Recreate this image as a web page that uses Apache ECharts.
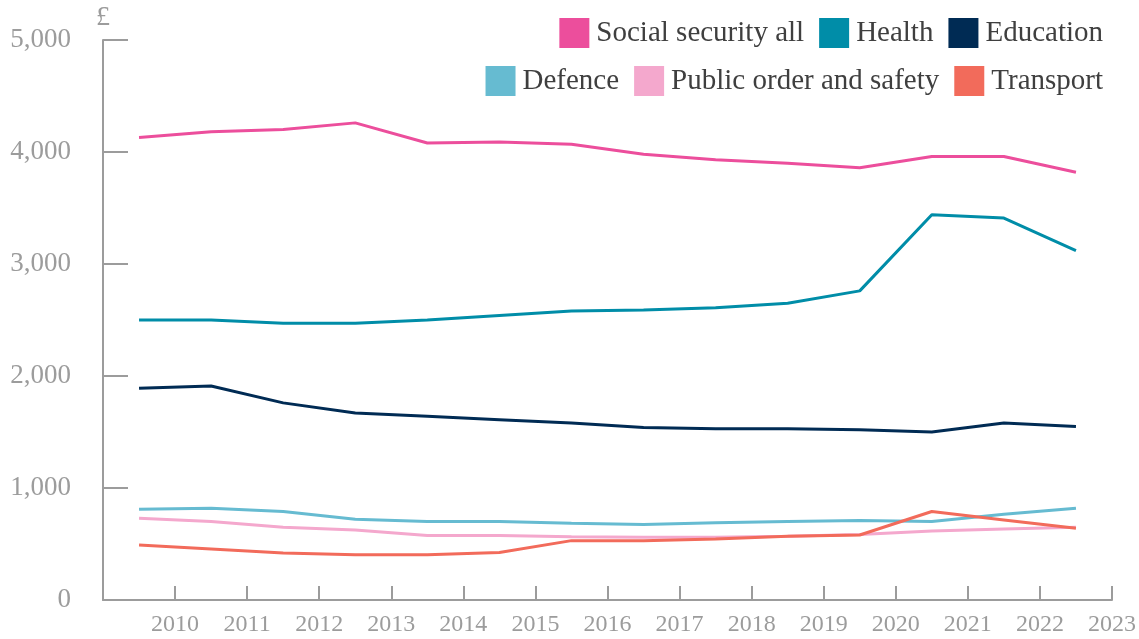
<!DOCTYPE html>
<html>
<head>
<meta charset="utf-8">
<script src="https://cdn.jsdelivr.net/npm/echarts@6/dist/echarts.min.js"></script>
<style>
html, body { margin: 0; padding: 0; background: #fff; }
#main { width: 1139px; height: 639px; }
</style>
</head>
<body>
<div id="main"></div>
<script>
var myChart = echarts.init(document.getElementById('main'));

// financial year ending in ...
var years = [2010, 2011, 2012, 2013, 2014, 2015, 2016, 2017, 2018, 2019, 2020, 2021, 2022, 2023];
var socialSecurity = [4130, 4180, 4200, 4260, 4080, 4090, 4070, 3980, 3930, 3900, 3860, 3960, 3960, 3820];
var health = [2500, 2500, 2470, 2470, 2500, 2540, 2580, 2590, 2610, 2650, 2760, 3440, 3410, 3120];
var education = [1890, 1910, 1760, 1670, 1640, 1610, 1580, 1540, 1530, 1530, 1520, 1500, 1580, 1550];
var defence = [810, 820, 790, 720, 700, 700, 685, 675, 690, 700, 710, 700, 765, 820];
var publicOrder = [730, 700, 650, 625, 575, 575, 565, 560, 560, 570, 585, 615, 635, 650];
var transport = [490, 455, 420, 405, 405, 425, 530, 530, 545, 570, 580, 790, 715, 640];

var names = ['Social security all', 'Health', 'Education', 'Defence', 'Public order and safety', 'Transport'];
var values = [socialSecurity, health, education, defence, publicOrder, transport];
var colors = ['#EC4E9C', '#008DA8', '#002B54', '#66BBD1', '#F4A8CD', '#F26B5B'];

var font = "'Palatino Linotype', Palatino, 'Book Antiqua', 'URW Palladio L', 'Liberation Serif', serif";
var grey = '#9c9c9c';

// each point sits in the middle of its year
function toPoints(arr) {
    var out = [];
    for (var i = 0; i < arr.length; i++) {
        out.push([years[i] - 0.5, arr[i]]);
    }
    return out;
}

var series = [];
for (var i = 0; i < names.length; i++) {
    series.push({
        name: names[i],
        type: 'line',
        symbol: 'none',
        lineStyle: { width: 3, color: colors[i] },
        itemStyle: { color: colors[i] },
        data: toPoints(values[i])
    });
}

var legendBase = {
    right: 31,
    icon: 'rect',
    itemWidth: 30,
    itemHeight: 30,
    itemGap: 15,
    textStyle: { fontFamily: font, fontSize: 29, color: '#3f3f3f', padding: [0, 0, 0, 2] }
};

var option = {
    animation: false,
    textStyle: { fontFamily: font },
    legend: [
        Object.assign({}, legendBase, { top: 13, data: names.slice(0, 3) }),
        Object.assign({}, legendBase, { top: 61, data: names.slice(3) })
    ],
    grid: { left: 103, right: 22, top: 40, bottom: 39, containLabel: false },
    xAxis: {
        type: 'value',
        min: years[0] - 1,
        max: years[years.length - 1],
        interval: 1,
        axisLine: { lineStyle: { color: grey, width: 2 } },
        axisTick: { inside: true, length: 14, lineStyle: { color: grey, width: 2 } },
        splitLine: { show: false },
        axisLabel: {
            color: grey,
            fontFamily: font,
            fontSize: 24,
            margin: 13,
            formatter: function (v) { return v === years[0] - 1 ? '' : String(v); }
        }
    },
    yAxis: {
        type: 'value',
        min: 0,
        max: 5000,
        interval: 1000,
        name: '£',
        nameLocation: 'end',
        nameGap: 8,
        nameTextStyle: { color: grey, fontFamily: font, fontSize: 28 },
        axisLine: { show: true, lineStyle: { color: grey, width: 2 } },
        axisTick: { show: true, inside: true, length: 25, lineStyle: { color: grey, width: 2 } },
        splitLine: { show: false },
        axisLabel: {
            color: grey,
            fontFamily: font,
            fontSize: 27,
            margin: 32,
            formatter: function (v) { return v.toLocaleString('en-GB'); }
        }
    },
    series: series
};

myChart.setOption(option);
window.onresize = myChart.resize;
</script>
</body>
</html>
